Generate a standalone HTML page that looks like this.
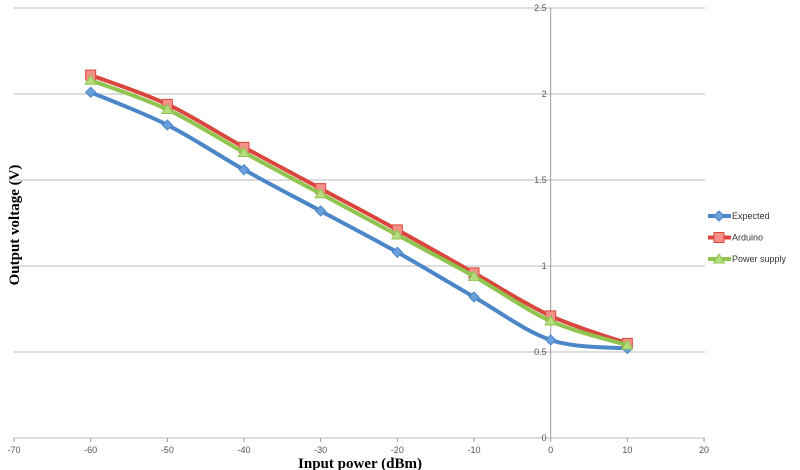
<!DOCTYPE html>
<html><head><meta charset="utf-8"><style>
body{margin:0;background:#fff;}
svg{display:block;font-family:"Liberation Sans",sans-serif;}
</style></head><body>
<svg id="chart" width="800" height="470">
<g id="grid"></g><g id="axes"></g><g id="series"></g><g id="legend"></g>
<text x="360" y="468" text-anchor="middle" font-family="Liberation Serif" font-weight="bold" font-size="15">Input power (dBm)</text>
<text transform="translate(19,225) rotate(-90)" text-anchor="middle" font-family="Liberation Serif" font-weight="bold" font-size="15">Output voltage (V)</text>
</svg>
<script>
const xCats=[-60,-50,-40,-30,-20,-10,0,10];
const expected=[2.01,1.82,1.56,1.32,1.08,0.82,0.57,0.52];
const arduino=[2.11,1.94,1.69,1.45,1.21,0.96,0.71,0.55];
const powerSupply=[2.08,1.91,1.66,1.42,1.18,0.94,0.68,0.54];
const xTicks=[-70,-60,-50,-40,-30,-20,-10,0,10,20];
const yTicks=[0,0.5,1,1.5,2,2.5];
const seriesNames=["Expected","Arduino","Power supply"];

const NS="http://www.w3.org/2000/svg";
const X=v=>14+(v+70)*(690/90);
const Y=v=>438-v*172;
function mk(t,a,p){const e=document.createElementNS(NS,t);for(const k in a)e.setAttribute(k,a[k]);p.appendChild(e);return e;}
const grid=document.getElementById('grid'),axes=document.getElementById('axes'),ser=document.getElementById('series'),leg=document.getElementById('legend');
yTicks.forEach(t=>{
 const l=mk('line',{x1:14,x2:705,y1:Y(t),y2:Y(t),stroke:'#bbb','stroke-width':1},grid);
 
 
 const tx=mk('text',{x:X(0)-4,y:Y(t)+3,'text-anchor':'end','font-size':9,fill:'#555'},axes);
 tx.textContent=t;
 
 
});
const ya=mk('line',{x1:X(0),x2:X(0),y1:Y(2.5),y2:Y(0),stroke:'#999'},axes);


xTicks.forEach(t=>{
 const tk=mk('line',{x1:X(t),x2:X(t),y1:Y(0),y2:Y(0)+4,stroke:'#999'},axes);
 
 
 const tx=mk('text',{x:X(t),y:Y(0)+15,'text-anchor':'middle','font-size':9,fill:'#555'},axes);
 tx.textContent=t;
 
 
});
function path(vals){
 const p=vals.map((v,i)=>[X(xCats[i]),Y(v)]);
 let d=`M${p[0][0]},${p[0][1]}`;
 for(let i=0;i<p.length-1;i++){
  const p0=p[i-1]||p[i],p1=p[i],p2=p[i+1],p3=p[i+2]||p2;
  const c1=[p1[0]+(p2[0]-p0[0])/6,p1[1]+(p2[1]-p0[1])/6],c2=[p2[0]-(p3[0]-p1[0])/6,p2[1]-(p3[1]-p1[1])/6];
  d+=` C${c1[0]},${c1[1]} ${c2[0]},${c2[1]} ${p2[0]},${p2[1]}`;
 }return d;
}
function marker(type,x,y,color,fill,g){
 let e;
 if(type==='d')e=mk('path',{d:`M${x},${y-5}L${x+5},${y}L${x},${y+5}L${x-5},${y}Z`,fill:fill,stroke:color,'stroke-width':1},g);
 else if(type==='s')e=mk('rect',{x:x-5,y:y-5,width:10,height:10,fill:fill,stroke:color,'stroke-width':1},g);
 else e=mk('path',{d:`M${x},${y-5}L${x+5.5},${y+4}L${x-5.5},${y+4}Z`,fill:fill,stroke:color,'stroke-width':1},g);
 return e;
}
const styles=[['#4a86c8','#6aa0dc','d'],['#d9463c','#f49088','s'],['#8fc44f','#b5dc7e','t']];
[expected,arduino,powerSupply].forEach((vals,si)=>{
 const [c,f,m]=styles[si];
 const g=mk('g',{},ser);
 
 
 const pl=mk('path',{d:path(vals),fill:'none',stroke:c,'stroke-width':4},g);
 
 
 vals.forEach((v,i)=>{
  const mm=marker(m,X(xCats[i]),Y(v),c,f,g);
  
  
 });
 const ly=216+si*21.5;
 const lg=mk('g',{},leg);
 
 
 mk('line',{x1:708,x2:731,y1:ly,y2:ly,stroke:c,'stroke-width':4},lg);
 marker(m,719,ly,c,f,lg);
 const t=mk('text',{x:732,y:ly+3,'font-size':9,fill:'#333'},lg);
 t.textContent=seriesNames[si];
});
</script>
</body></html>
